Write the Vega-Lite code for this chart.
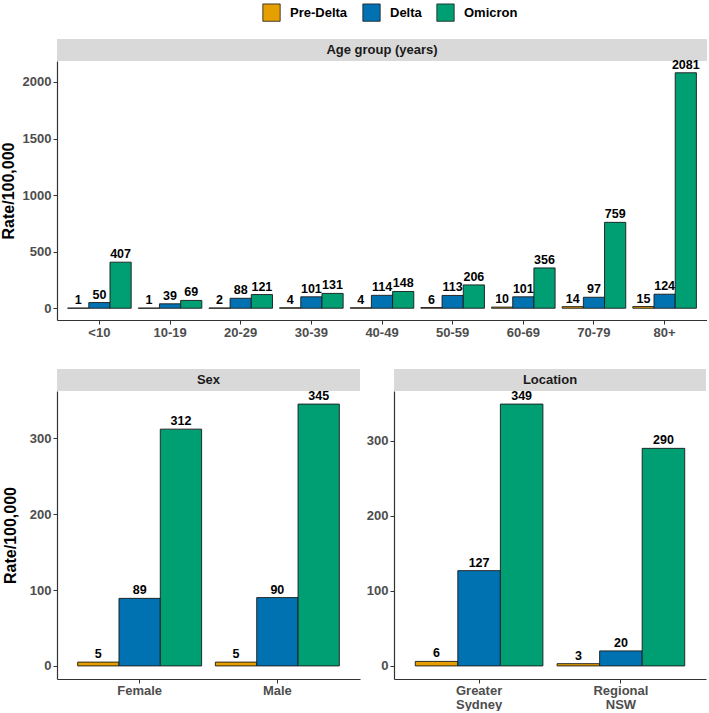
{
  "$schema": "https://vega.github.io/schema/vega-lite/v6.json",
  "padding": {"left": 0, "top": 3, "right": 0, "bottom": 0},
  "background": "white",
  "datasets": {
    "rates": [
      {"panel": "age", "category": "<10", "variant": "Pre-Delta", "value": 1},
      {"panel": "age", "category": "<10", "variant": "Delta", "value": 50},
      {"panel": "age", "category": "<10", "variant": "Omicron", "value": 407},
      {"panel": "age", "category": "10-19", "variant": "Pre-Delta", "value": 1},
      {"panel": "age", "category": "10-19", "variant": "Delta", "value": 39},
      {"panel": "age", "category": "10-19", "variant": "Omicron", "value": 69},
      {"panel": "age", "category": "20-29", "variant": "Pre-Delta", "value": 2},
      {"panel": "age", "category": "20-29", "variant": "Delta", "value": 88},
      {"panel": "age", "category": "20-29", "variant": "Omicron", "value": 121},
      {"panel": "age", "category": "30-39", "variant": "Pre-Delta", "value": 4},
      {"panel": "age", "category": "30-39", "variant": "Delta", "value": 101},
      {"panel": "age", "category": "30-39", "variant": "Omicron", "value": 131},
      {"panel": "age", "category": "40-49", "variant": "Pre-Delta", "value": 4},
      {"panel": "age", "category": "40-49", "variant": "Delta", "value": 114},
      {"panel": "age", "category": "40-49", "variant": "Omicron", "value": 148},
      {"panel": "age", "category": "50-59", "variant": "Pre-Delta", "value": 6},
      {"panel": "age", "category": "50-59", "variant": "Delta", "value": 113},
      {"panel": "age", "category": "50-59", "variant": "Omicron", "value": 206},
      {"panel": "age", "category": "60-69", "variant": "Pre-Delta", "value": 10},
      {"panel": "age", "category": "60-69", "variant": "Delta", "value": 101},
      {"panel": "age", "category": "60-69", "variant": "Omicron", "value": 356},
      {"panel": "age", "category": "70-79", "variant": "Pre-Delta", "value": 14},
      {"panel": "age", "category": "70-79", "variant": "Delta", "value": 97},
      {"panel": "age", "category": "70-79", "variant": "Omicron", "value": 759},
      {"panel": "age", "category": "80+", "variant": "Pre-Delta", "value": 15},
      {"panel": "age", "category": "80+", "variant": "Delta", "value": 124},
      {"panel": "age", "category": "80+", "variant": "Omicron", "value": 2081},
      {"panel": "sex", "category": "Female", "variant": "Pre-Delta", "value": 5},
      {"panel": "sex", "category": "Female", "variant": "Delta", "value": 89},
      {"panel": "sex", "category": "Female", "variant": "Omicron", "value": 312},
      {"panel": "sex", "category": "Male", "variant": "Pre-Delta", "value": 5},
      {"panel": "sex", "category": "Male", "variant": "Delta", "value": 90},
      {"panel": "sex", "category": "Male", "variant": "Omicron", "value": 345},
      {"panel": "loc", "category": "Greater Sydney", "variant": "Pre-Delta", "value": 6},
      {"panel": "loc", "category": "Greater Sydney", "variant": "Delta", "value": 127},
      {"panel": "loc", "category": "Greater Sydney", "variant": "Omicron", "value": 349},
      {"panel": "loc", "category": "Regional NSW", "variant": "Pre-Delta", "value": 3},
      {"panel": "loc", "category": "Regional NSW", "variant": "Delta", "value": 20},
      {"panel": "loc", "category": "Regional NSW", "variant": "Omicron", "value": 290}
    ]
  },
  "config": {
    "font": "Liberation Sans",
    "view": {"stroke": null},
    "axis": {
      "grid": false,
      "domainColor": "#333333",
      "domainWidth": 1.2,
      "tickColor": "#333333",
      "tickSize": 4,
      "labelFont": "Liberation Sans",
      "labelFontWeight": "bold",
      "labelColor": "#4D4D4D",
      "labelFontSize": 13,
      "labelPadding": 2,
      "titleFont": "Liberation Sans",
      "titleFontWeight": "bold",
      "titleFontSize": 16,
      "titleColor": "#000000"
    }
  },
  "vconcat": [
    {
      "bounds": "flush",
      "spacing": 0,
      "vconcat": [
        {
          "width": 650,
          "height": 22,
          "data": {"values": [{"label": "Age group (years)"}]},
          "layer": [
            {"mark": {"type": "rect", "color": "#D9D9D9"}, "encoding": {}},
            {"mark": {"type": "text", "fontWeight": "bold", "fontSize": 13, "color": "#1A1A1A"}, "encoding": {"text": {"field": "label"}}}
          ]
        },
        {
          "width": 650,
          "height": 259,
          "data": {"name": "rates"},
          "transform": [{"filter": "datum.panel === 'age'"}],
          "encoding": {
            "x": {"field": "category", "type": "nominal", "sort": null, "title": null, "scale": {"paddingInner": 0.1, "paddingOuter": 0.15}, "axis": {"labelAngle": 0}},
            "xOffset": {"field": "variant", "type": "nominal", "sort": ["Pre-Delta", "Delta", "Omicron"], "scale": {"paddingInner": 0, "paddingOuter": 0}},
            "y": {"field": "value", "type": "quantitative", "scale": {"domain": [-104, 2185], "nice": false, "zero": false}, "axis": {"values": [0, 500, 1000, 1500, 2000], "format": "d", "title": "Rate/100,000", "titlePadding": 6}}
          },
          "layer": [
            {
              "mark": {"type": "bar", "stroke": "#1A1A1A", "strokeWidth": 0.9},
              "encoding": {
                "y2": {"datum": 0},
                "color": {"field": "variant", "type": "nominal", "sort": ["Pre-Delta", "Delta", "Omicron"], "scale": {"domain": ["Pre-Delta", "Delta", "Omicron"], "range": ["#E69F00", "#0072B2", "#009E73"]},
                  "legend": {"orient": "none", "legendX": 205, "legendY": -36, "direction": "horizontal", "title": null, "symbolType": "square", "symbolSize": 300, "symbolStrokeColor": "#1A1A1A", "symbolStrokeWidth": 0.8, "symbolOpacity": 1, "labelFontSize": 13, "labelFontWeight": "bold", "labelColor": "#000000", "labelFont": "Liberation Sans", "columnPadding": 13, "labelOffset": 9}}
              }
            },
            {
              "mark": {"type": "text", "baseline": "bottom", "dy": -1, "fontWeight": "bold", "fontSize": 12.5, "color": "#000000"},
              "encoding": {"text": {"field": "value", "type": "quantitative"}}
            }
          ]
        }
      ]
    },
    {
      "spacing": 6,
      "resolve": {"scale": {"x": "independent", "y": "independent", "xOffset": "independent"}},
      "hconcat": [
        {
          "bounds": "flush",
          "spacing": 0,
          "vconcat": [
            {
              "width": 303,
              "height": 22,
              "data": {"values": [{"label": "Sex"}]},
              "layer": [
                {"mark": {"type": "rect", "color": "#D9D9D9"}, "encoding": {}},
                {"mark": {"type": "text", "fontWeight": "bold", "fontSize": 13, "color": "#1A1A1A"}, "encoding": {"text": {"field": "label"}}}
              ]
            },
            {
              "width": 303,
              "height": 288,
              "data": {"name": "rates"},
              "transform": [{"filter": "datum.panel === 'sex'"}],
              "encoding": {
                "x": {"field": "category", "type": "nominal", "sort": null, "title": null, "scale": {"paddingInner": 0.1, "paddingOuter": 0.15}, "axis": {"labelAngle": 0, "labelPadding": 1}},
                "xOffset": {"field": "variant", "type": "nominal", "sort": ["Pre-Delta", "Delta", "Omicron"], "scale": {"paddingInner": 0, "paddingOuter": 0}},
                "y": {"field": "value", "type": "quantitative", "scale": {"domain": [-17.25, 362.25], "nice": false, "zero": false}, "axis": {"values": [0, 100, 200, 300], "format": "d", "title": "Rate/100,000", "titlePadding": 11}}
              },
              "layer": [
                {
                  "mark": {"type": "bar", "stroke": "#1A1A1A", "strokeWidth": 0.9},
                  "encoding": {
                    "y2": {"datum": 0},
                    "color": {"field": "variant", "type": "nominal", "sort": ["Pre-Delta", "Delta", "Omicron"], "scale": {"domain": ["Pre-Delta", "Delta", "Omicron"], "range": ["#E69F00", "#0072B2", "#009E73"]},
                      "legend": {"orient": "none", "legendX": 205, "legendY": -36, "direction": "horizontal", "title": null, "symbolType": "square", "symbolSize": 300, "symbolStrokeColor": "#1A1A1A", "symbolStrokeWidth": 0.8, "symbolOpacity": 1, "labelFontSize": 13, "labelFontWeight": "bold", "labelColor": "#000000", "labelFont": "Liberation Sans", "columnPadding": 13, "labelOffset": 9}}
                  }
                },
                {
                  "mark": {"type": "text", "baseline": "bottom", "dy": -1, "fontWeight": "bold", "fontSize": 12.5, "color": "#000000"},
                  "encoding": {"text": {"field": "value", "type": "quantitative"}}
                }
              ]
            }
          ]
        },
        {
          "bounds": "flush",
          "spacing": 0,
          "vconcat": [
            {
              "width": 312,
              "height": 22,
              "data": {"values": [{"label": "Location"}]},
              "layer": [
                {"mark": {"type": "rect", "color": "#D9D9D9"}, "encoding": {}},
                {"mark": {"type": "text", "fontWeight": "bold", "fontSize": 13, "color": "#1A1A1A"}, "encoding": {"text": {"field": "label"}}}
              ]
            },
            {
              "width": 312,
              "height": 288,
              "data": {"name": "rates"},
              "transform": [{"filter": "datum.panel === 'loc'"}],
              "encoding": {
                "x": {"field": "category", "type": "nominal", "sort": null, "title": null, "scale": {"paddingInner": 0.1, "paddingOuter": 0.15}, "axis": {"labelAngle": 0, "labelPadding": 1, "labelExpr": "split(datum.label, ' ')", "labelLineHeight": 14}},
                "xOffset": {"field": "variant", "type": "nominal", "sort": ["Pre-Delta", "Delta", "Omicron"], "scale": {"paddingInner": 0, "paddingOuter": 0}},
                "y": {"field": "value", "type": "quantitative", "scale": {"domain": [-17.45, 366.45], "nice": false, "zero": false}, "axis": {"values": [0, 100, 200, 300], "format": "d", "title": null}}
              },
              "layer": [
                {
                  "mark": {"type": "bar", "stroke": "#1A1A1A", "strokeWidth": 0.9},
                  "encoding": {
                    "y2": {"datum": 0},
                    "color": {"field": "variant", "type": "nominal", "sort": ["Pre-Delta", "Delta", "Omicron"], "scale": {"domain": ["Pre-Delta", "Delta", "Omicron"], "range": ["#E69F00", "#0072B2", "#009E73"]},
                      "legend": {"orient": "none", "legendX": 205, "legendY": -36, "direction": "horizontal", "title": null, "symbolType": "square", "symbolSize": 300, "symbolStrokeColor": "#1A1A1A", "symbolStrokeWidth": 0.8, "symbolOpacity": 1, "labelFontSize": 13, "labelFontWeight": "bold", "labelColor": "#000000", "labelFont": "Liberation Sans", "columnPadding": 13, "labelOffset": 9}}
                  }
                },
                {
                  "mark": {"type": "text", "baseline": "bottom", "dy": -1, "fontWeight": "bold", "fontSize": 12.5, "color": "#000000"},
                  "encoding": {"text": {"field": "value", "type": "quantitative"}}
                }
              ]
            }
          ]
        }
      ]
    }
  ],
  "spacing": 30,
  "resolve": {"scale": {"x": "independent", "y": "independent", "xOffset": "independent"}}
}
